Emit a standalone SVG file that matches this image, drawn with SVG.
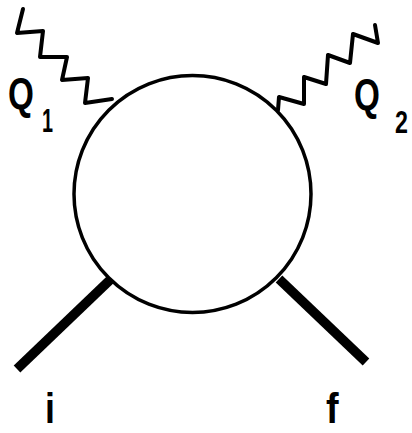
<svg xmlns="http://www.w3.org/2000/svg" width="412" height="433" viewBox="0 0 412 433">
<style>
.wave{fill:none;stroke:#000;stroke-width:4;stroke-linejoin:round;stroke-linecap:round}
.leg{stroke:#000;stroke-width:9.5;stroke-linecap:butt}
.blob{fill:#fff;stroke:#000;stroke-width:3.5}
.lbl{font-family:"Liberation Sans",Arial,sans-serif;font-weight:bold;fill:#000}
</style>
<rect width="412" height="433" fill="#fff"/>
<g id="connectors">
<polyline class="wave" points="23,9 17,33 43,31 40,57 67,57 62,80 88,78 85,103 112,99"/>
<polyline class="wave" points="375,25 378,43 353,34 350,63 328,55 326,84 304,77 304,104 279,97 278,110"/>
<line class="leg" x1="111" y1="279" x2="17" y2="369"/>
<line class="leg" x1="279" y1="279" x2="366" y2="362"/>
</g>
<g id="blob"><circle class="blob" cx="192.5" cy="194" r="118.5"/></g>
<g id="Q1"><text class="lbl" transform="translate(8,109) scale(0.74,1)" font-size="45">Q</text><text class="lbl" transform="translate(42,132) scale(0.6,1)" font-size="33">1</text></g>
<g id="Q2"><text class="lbl" transform="translate(354,110) scale(0.74,1)" font-size="45">Q</text><text class="lbl" transform="translate(395,133) scale(0.75,1)" font-size="31">2</text></g>
<g id="i"><text class="lbl" font-size="42" transform="translate(45,423) scale(0.85,1)">i</text></g>
<g id="f"><text class="lbl" font-size="42" transform="translate(326,423) scale(0.9,1)">f</text></g>
</svg>
